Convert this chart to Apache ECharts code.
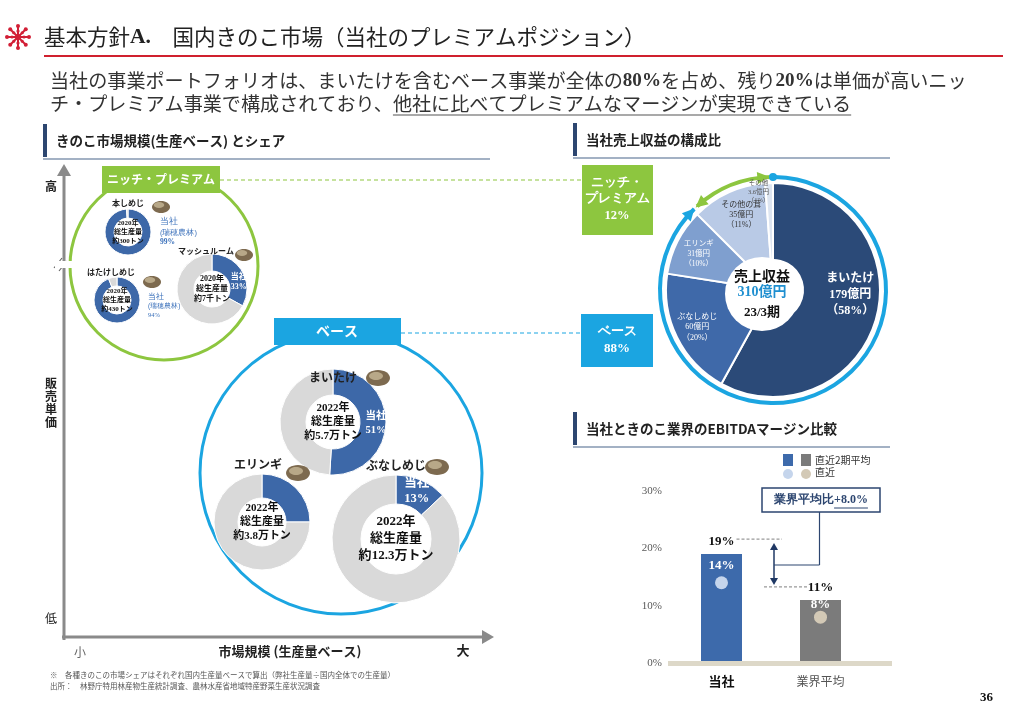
<!DOCTYPE html>
<html>
<head>
<meta charset="utf-8">
<script src="https://cdn.jsdelivr.net/npm/echarts@6.0.0/dist/echarts.min.js"></script>
<style>
html, body { margin: 0; padding: 0; background: #fff; }
#main { width: 1016px; height: 720px; }
</style>
</head>
<body>
<div id="main"></div>
<script>
// きのこ市場シェア（当社 %）
var shareNames = ['本しめじ', 'はたけしめじ', 'マッシュルーム', 'まいたけ', 'エリンギ', 'ぶなしめじ'];
var shareValues = [99, 94, 33, 51, 25, 13];
var shareYears = ['2020年', '2020年', '2020年', '2022年', '2022年', '2022年'];
var shareVolumes = ['約300トン', '約430トン', '約7千トン', '約5.7万トン', '約3.8万トン', '約12.3万トン'];

// 当社売上収益の構成（億円 / %）
var revenueNames = ['まいたけ', 'ぶなしめじ', 'エリンギ', 'その他の茸', 'その他'];
var revenueValues = [179, 60, 31, 35, 3.6];
var revenuePct = [58, 20, 10, 11, 1];
var revenueTotal = '310億円';
var revenuePeriod = '23/3期';
var segmentNames = ['ベース', 'ニッチ・\nプレミアム'];
var segmentShare = [88, 12];

// EBITDAマージン (%)
var marginCats = ['当社', '業界平均'];
var marginAvg2 = [19, 11];
var marginLatest = [14, 8];

var JP = "'Noto Sans CJK JP', sans-serif";
var MIX = "'Liberation Serif', 'Noto Sans CJK JP', serif";
var BLUE = '#3d68a8', GREY = '#d9d9d9', CYAN = '#1ba5e1', GREEN = '#8dc63f', NAVY = '#2d4670';

// 各ドーナツの位置とサイズ
var pieLayout = [
    { c: [128, 232], r: [14, 23], fs: 7, lh: 9, lab: [128, 203], labFs: 8, photo: [161, 207] },
    { c: [117, 300], r: [14, 23], fs: 7, lh: 9, lab: [111, 272], labFs: 8, photo: [152, 282] },
    { c: [212, 289], r: [18, 35], fs: 8, lh: 10, lab: [206, 251], labFs: 8, photo: [244, 255] },
    { c: [333, 422], r: [27, 53], fs: 11, lh: 14, lab: [333, 377], labFs: 12, photo: [378, 378] },
    { c: [262, 522], r: [24, 48], fs: 11, lh: 14, lab: [258, 464], labFs: 12, photo: [298, 473] },
    { c: [396, 539], r: [35, 64], fs: 13, lh: 15, lab: [396, 465], labFs: 12, photo: [437, 467] }
];
var revStyle = [
    { color: '#2b4a78', text: '#fff', fs: 12, r: 84, dx: -4, dy: -16 },
    { color: '#3f69a9', text: '#fff', fs: 8, r: 80, dx: -4, dy: 2 },
    { color: '#7f9fcf', text: '#fff', fs: 7.5, r: 80, dx: -3, dy: 0 },
    { color: '#b9cae6', text: '#333', fs: 8, r: 76, dx: 0, dy: -6 },
    { color: '#dde5f1', text: '#555', fs: 6.5, r: 96, dx: -11, dy: -2 }
];
var revC = [773, 290];
var revHole = [762, 294, 37];

var ctx = document.createElement('canvas').getContext('2d');
function textW(s, font) { ctx.font = font; return ctx.measureText(s).width; }

function txt(x, y, text, o) {
    var st = {
        text: text, fill: '#222', fontSize: 12, fontFamily: JP,
        textAlign: 'left', textVerticalAlign: 'middle', align: 'left', verticalAlign: 'middle'
    };
    for (var k in o) st[k] = o[k];
    if (o && o.textAlign) st.align = o.textAlign;
    return { type: 'text', x: x, y: y, z: 100, style: st };
}
function line(x1, y1, x2, y2, color, w, dash) {
    return { type: 'line', z: 50, shape: { x1: x1, y1: y1, x2: x2, y2: y2 },
        style: { stroke: color, lineWidth: w || 1, lineDash: dash || null } };
}
function rect(x, y, w, h, fill, stroke) {
    return { type: 'rect', z: 40, shape: { x: x, y: y, width: w, height: h },
        style: { fill: fill, stroke: stroke || null, lineWidth: stroke ? 1.5 : 0 } };
}
function circle(cx, cy, r, fill, stroke, w, z) {
    return { type: 'circle', z: z == null ? 1 : z, shape: { cx: cx, cy: cy, r: r },
        style: { fill: fill, stroke: stroke || null, lineWidth: w || 0 } };
}
// ドーナツ上の位置（時計回り割合 f, 半径 r）
function polar(c, f, r) {
    var a = (90 - 360 * f) * Math.PI / 180;
    return { x: c[0] + r * Math.cos(a), y: c[1] - r * Math.sin(a), tx: Math.sin(a), ty: Math.cos(a), nx: Math.cos(a), ny: -Math.sin(a) };
}

var g = [];

// タイトル
(function () {
    var c = [18, 37];
    for (var i = 0; i < 8; i++) {
        var a = i * Math.PI / 4;
        var ex = c[0] + 11 * Math.cos(a), ey = c[1] + 11 * Math.sin(a);
        g.push(line(c[0], c[1], ex, ey, '#d21f36', 2));
        g.push(circle(ex, ey, 2, '#d21f36', null, 0, 60));
        g.push(circle(c[0] + 6 * Math.cos(a), c[1] + 6 * Math.sin(a), 1.6, '#d21f36', null, 0, 60));
    }
    g.push(circle(c[0], c[1], 3, '#d21f36', null, 0, 60));
})();
g.push(txt(44, 37, '{a|基本方針}{b|A.}{a|　国内きのこ市場（当社のプレミアムポジション）}', {
    rich: {
        a: { fontSize: 21.5, fontFamily: JP, fill: '#222', color: '#222' },
        b: { fontSize: 21.5, fontFamily: MIX, fontWeight: 'bold', fill: '#222', color: '#222' }
    }
}));
g.push(line(44, 56, 1003, 56, '#d0202e', 2));

// リード文
var BFS = 19.1;
var bodyRich = {
    n: { fontSize: BFS, fontFamily: JP, color: '#333', fill: '#333' },
    b: { fontSize: BFS, fontFamily: MIX, fontWeight: 'bold', color: '#333', fill: '#333' }
};
g.push(txt(50, 81, '{n|当社の事業ポートフォリオは、まいたけを含むベース事業が全体の}{b|80%}{n|を占め、残り}{b|20%}{n|は単価が高いニッ}', { rich: bodyRich }));
var l2a = 'チ・プレミアム事業で構成されており、';
var l2b = '他社に比べてプレミアムなマージンが実現できている';
var f2 = BFS + "px 'Noto Sans CJK JP'";
var w2a = textW(l2a, f2), w2b = textW(l2b, f2);
g.push(txt(50, 104, l2a, { fontSize: BFS, fill: '#333' }));
g.push(txt(50 + w2a, 104, l2b, { fontSize: BFS, fill: '#333' }));
g.push(line(50 + w2a, 115, 50 + w2a + w2b, 115, '#555', 1.2));

// セクション見出し
function header(x, y, x2, label) {
    g.push(rect(x, y, 4, 33, NAVY));
    g.push(txt(x + 13, y + 17, label, { fontSize: 13.5, fontWeight: 'bold', fill: '#222' }));
    g.push(line(x, y + 35, x2, y + 35, '#8497b0', 1.5));
}
header(43, 124, 490, 'きのこ市場規模(生産ベース) とシェア');
header(573, 123, 890, '当社売上収益の構成比');
header(573, 412, 890, '当社ときのこ業界のEBITDAマージン比較');

// 左図の軸
g.push(line(64, 640, 64, 172, '#8a8a8a', 3));
g.push({ type: 'polygon', z: 50, shape: { points: [[57, 176], [71, 176], [64, 164]] }, style: { fill: '#8a8a8a' } });
g.push(line(62, 637, 484, 637, '#8a8a8a', 3));
g.push({ type: 'polygon', z: 50, shape: { points: [[482, 630], [482, 644], [494, 637]] }, style: { fill: '#8a8a8a' } });
g.push({ type: 'rect', z: 55, shape: { x: 55, y: 261, width: 18, height: 7 }, style: { fill: '#fff' } });
g.push(line(54, 268, 62, 258, '#666', 1.2));
g.push(line(59, 271, 67, 261, '#666', 1.2));
g.push(txt(51, 186, '高', { fontSize: 12, textAlign: 'center', fontWeight: 'bold' }));
g.push(txt(51, 403, '販\n売\n単\n価', { fontSize: 12, textAlign: 'center', fontWeight: 'bold', lineHeight: 13 }));
g.push(txt(51, 618, '低', { fontSize: 12, textAlign: 'center' }));
g.push(txt(80, 652, '小', { fontSize: 12, textAlign: 'center', fill: '#666' }));
g.push(txt(290, 651, '市場規模 (生産量ベース)', { fontSize: 13, textAlign: 'center', fontWeight: 'bold' }));
g.push(txt(463, 650, '大', { fontSize: 13, textAlign: 'center', fontWeight: 'bold' }));

// ニッチ・プレミアム / ベース の円
g.push(circle(164, 266, 94, 'rgba(0,0,0,0)', GREEN, 3, 1));
g.push(rect(102, 166, 118, 27, GREEN));
g.push(txt(161, 179, 'ニッチ・プレミアム', { fontSize: 12, fontWeight: 'bold', fill: '#fff', textAlign: 'center' }));
g.push(circle(341, 473, 141, 'rgba(0,0,0,0)', CYAN, 3, 1));
g.push(rect(274, 318, 127, 27, CYAN));
g.push(txt(337, 331, 'ベース', { fontSize: 14, fontWeight: 'bold', fill: '#fff', textAlign: 'center' }));

// 右図への点線
g.push(line(220, 180, 582, 180, GREEN, 1.2, [4, 3]));
g.push(line(401, 333, 581, 333, CYAN, 1.2, [4, 3]));

// ドーナツのラベルと写真代わりの小さな塊
pieLayout.forEach(function (p, i) {
    g.push(txt(p.lab[0], p.lab[1], shareNames[i], { fontSize: p.labFs, fontWeight: 'bold', textAlign: 'center' }));
    var s = i < 3 ? 0.75 : 1;
    g.push({ type: 'ellipse', z: 30, shape: { cx: p.photo[0], cy: p.photo[1], rx: 12 * s, ry: 8 * s }, style: { fill: '#7d6a4f' } });
    g.push({ type: 'ellipse', z: 31, shape: { cx: p.photo[0] - 2, cy: p.photo[1] - 2, rx: 7 * s, ry: 4 * s }, style: { fill: '#b8a888' } });
});
g.push(txt(160, 232, '{a|当社}\n{b|(瑞穂農林)}\n{c|' + shareValues[0] + '%}', {
    rich: {
        a: { fontSize: 9, color: '#3d72bb', fill: '#3d72bb', lineHeight: 11 },
        b: { fontSize: 7.5, color: '#3d72bb', fill: '#3d72bb', lineHeight: 10 },
        c: { fontSize: 7.5, fontFamily: MIX, fontWeight: 'bold', color: '#3d72bb', fill: '#3d72bb', lineHeight: 10 }
    }
}));
g.push(txt(148, 306, '{a|当社}\n{b|(瑞穂農林)}\n{c|' + shareValues[1] + '%}', {
    rich: {
        a: { fontSize: 7.5, color: '#3d72bb', fill: '#3d72bb', lineHeight: 9 },
        b: { fontSize: 6.5, color: '#3d72bb', fill: '#3d72bb', lineHeight: 9 },
        c: { fontSize: 6.5, fontFamily: MIX, color: '#3d72bb', fill: '#3d72bb', lineHeight: 9 }
    }
}));
// マッシュルームの当社ラベル（扇形の中に配置）
(function () {
    var p = pieLayout[2];
    var m = polar(p.c, shareValues[2] * 0.64 / 100, (p.r[0] + p.r[1]) / 2 + 1);
    g.push(txt(m.x, m.y, '当社\n' + shareValues[2] + '%', { fontSize: 8, fontWeight: 'bold', fontFamily: MIX,
        fill: '#fff', textAlign: 'center', lineHeight: 10 }));
})();

// 売上収益ドーナツの中央（穴は少し左下にずれている）
g.push(circle(revHole[0], revHole[1], revHole[2], '#fff', null, 0, 90));
g.push(txt(revHole[0], revC[1] - 14, '売上収益', { fontSize: 14, fontWeight: 'bold', textAlign: 'center', fill: '#111' }));
g.push(txt(revHole[0], revC[1] + 2, revenueTotal, { fontSize: 14, fontWeight: 'bold', fontFamily: MIX, textAlign: 'center', fill: '#1f8fd0' }));
g.push(txt(revHole[0], revC[1] + 23, revenuePeriod, { fontSize: 13, fontWeight: 'bold', fontFamily: MIX, textAlign: 'center', fill: '#111' }));
// 各扇形のラベル（扇形の中央角に配置）
(function () {
    var sum = revenueValues.reduce(function (a, b) { return a + b; }, 0);
    var acc = 0;
    revenueNames.forEach(function (n, i) {
        var s = revStyle[i];
        var f = (acc + revenueValues[i] / 2) / sum;
        acc += revenueValues[i];
        var m = polar(revC, f, s.r);
        g.push(txt(m.x + s.dx, m.y + s.dy, n + '\n' + revenueValues[i] + '億円\n（' + revenuePct[i] + '%）', {
            fontSize: s.fs, fontFamily: MIX, fontWeight: i == 0 ? 'bold' : 'normal',
            fill: s.text, textAlign: 'center', lineHeight: s.fs * 1.3 }));
    });
})();

// ベース / ニッチ ボックス
g.push(rect(582, 165, 71, 70, GREEN));
g.push(txt(617, 200, '{a|' + segmentNames[1] + '}\n{b|' + segmentShare[1] + '%}', {
    textAlign: 'center',
    rich: {
        a: { fontSize: 12.5, fontWeight: 'bold', color: '#fff', fill: '#fff', lineHeight: 16, align: 'center' },
        b: { fontSize: 12.5, fontWeight: 'bold', fontFamily: MIX, color: '#fff', fill: '#fff', lineHeight: 18, align: 'center' }
    }
}));
g.push(rect(581, 314, 72, 53, CYAN));
g.push(txt(617, 340, '{a|' + segmentNames[0] + '}\n{b|' + segmentShare[0] + '%}', {
    textAlign: 'center',
    rich: {
        a: { fontSize: 13, fontWeight: 'bold', color: '#fff', fill: '#fff', lineHeight: 18, align: 'center' },
        b: { fontSize: 13, fontWeight: 'bold', fontFamily: MIX, color: '#fff', fill: '#fff', lineHeight: 18, align: 'center' }
    }
}));

// リング上の矢印（割合から角度を計算）
function arrowHead(f, r, dir, color) {
    var p = polar(revC, f, r);
    var tx = p.tx * dir, ty = p.ty * dir;
    return { type: 'polygon', z: 60, shape: { points: [
        [p.x + tx * 7, p.y + ty * 7],
        [p.x - tx * 5 + p.nx * 6, p.y - ty * 5 + p.ny * 6],
        [p.x - tx * 5 - p.nx * 6, p.y - ty * 5 - p.ny * 6]
    ] }, style: { fill: color } };
}
var baseEnd = segmentShare[0] / 100;
g.push(arrowHead(baseEnd - 0.012, 113, 1, CYAN));
g.push(arrowHead(baseEnd + 0.01, 113, -1, GREEN));
g.push(arrowHead(0.985, 113, 1, GREEN));
var top0 = polar(revC, 0, 113);
g.push(circle(top0.x, top0.y, 4, CYAN, null, 0, 60));

// EBITDA 凡例
g.push(rect(783, 454, 10, 12, '#3d6aab'));
g.push(rect(801, 454, 10, 12, '#7b7b7b'));
g.push(txt(815, 460, '直近2期平均', { fontSize: 10, fill: '#333' }));
g.push(circle(788, 474, 5, '#c5d5ec', null, 0, 60));
g.push(circle(806, 474, 5, '#d3c9b6', null, 0, 60));
g.push(txt(815, 472, '直近', { fontSize: 10, fill: '#333' }));
g.push(rect(668, 661, 224, 5, '#ddd8c8'));

// 注記・ページ番号
g.push(txt(50, 675, '※　各種きのこの市場シェアはそれぞれ国内生産量ベースで算出（弊社生産量÷国内全体での生産量）', { fontSize: 7.5, fill: '#555' }));
g.push(txt(50, 686, '出所：　林野庁特用林産物生産統計調査、農林水産省地域特産野菜生産状況調査', { fontSize: 7.5, fill: '#555' }));
g.push(txt(993, 698, '36', { fontSize: 13, fontWeight: 'bold', fontFamily: MIX, textAlign: 'right', fill: '#111' }));

// シリーズ
var series = [];
pieLayout.forEach(function (p, i) {
    var v = shareValues[i];
    series.push({
        type: 'pie', center: p.c, radius: p.r, startAngle: 90, clockwise: true,
        silent: true, animation: false, z: 5,
        itemStyle: { borderColor: '#fff', borderWidth: 1 },
        labelLine: { show: false },
        data: [
            { value: v, name: '当社', itemStyle: { color: BLUE },
              label: { show: i >= 3, position: 'inside', formatter: '当社\n{c}%', color: i == 4 ? '#dce6f5' : '#fff',
                       fontSize: p.fs - 0.5, fontWeight: 'bold', fontFamily: MIX, lineHeight: p.lh } },
            { value: 100 - v, name: '他社', itemStyle: { color: GREY },
              label: { show: true, position: 'center', formatter: shareYears[i] + '\n総生産量\n' + shareVolumes[i],
                       color: '#111', fontSize: p.fs, fontWeight: 'bold', fontFamily: MIX, lineHeight: i == 5 ? 17 : p.lh } }
        ]
    });
});

series.push({
    type: 'pie', center: revC, radius: [30, 107], startAngle: 90, clockwise: true,
    silent: true, animation: false, z: 5,
    itemStyle: { borderColor: '#fff', borderWidth: 2 },
    label: { show: false }, labelLine: { show: false },
    data: revenueNames.map(function (n, i) {
        return { name: n, value: revenueValues[i], itemStyle: { color: revStyle[i].color } };
    })
});
series.push({
    type: 'pie', center: revC, radius: [111, 115], startAngle: 90, clockwise: true,
    silent: true, animation: false, z: 4, padAngle: 2,
    label: { show: false }, labelLine: { show: false },
    data: [
        { name: segmentNames[0], value: segmentShare[0], itemStyle: { color: CYAN } },
        { name: segmentNames[1], value: segmentShare[1], itemStyle: { color: GREEN } }
    ]
});

series.push({
    type: 'bar', xAxisIndex: 0, yAxisIndex: 0, barWidth: 41, animation: false, z: 2,
    data: marginAvg2.map(function (v, i) { return { value: v, itemStyle: { color: i == 0 ? '#3d6aab' : '#7b7b7b' } }; }),
    label: { show: true, position: 'top', distance: 6, formatter: '{c}%', color: '#111',
             fontSize: 13, fontWeight: 'bold', fontFamily: MIX }
});
series.push({
    type: 'scatter', xAxisIndex: 0, yAxisIndex: 0, symbolSize: 13, animation: false, z: 3,
    data: marginLatest.map(function (v, i) {
        return { value: v, itemStyle: { color: i == 0 ? '#c5d5ec' : '#d3c9b6', opacity: 1 },
                 label: { distance: i == 0 ? 4 : -1 } };
    }),
    label: { show: true, position: 'top', distance: 4, formatter: '{c}%', color: '#fff',
             fontSize: 13, fontWeight: 'bold', fontFamily: MIX }
});

var option = {
    backgroundColor: '#fff',
    animation: false,
    textStyle: { fontFamily: JP },
    grid: { left: 672, top: 491, width: 198, height: 172, containLabel: false, outerBoundsMode: 'none' },
    xAxis: {
        type: 'category', data: marginCats,
        axisLine: { show: false }, axisTick: { show: false },
        axisLabel: {
            margin: 12,
            formatter: function (v, i) { return i == 0 ? '{a|' + v + '}' : '{b|' + v + '}'; },
            rich: {
                a: { fontSize: 13, fontWeight: 'bold', color: '#111' },
                b: { fontSize: 12, color: '#555' }
            }
        }
    },
    yAxis: {
        type: 'value', min: 0, max: 30, interval: 10,
        axisLine: { show: false }, axisTick: { show: false }, splitLine: { show: false },
        axisLabel: { formatter: '{value}%', color: '#595959', fontSize: 11, fontFamily: MIX, margin: 10 }
    },
    graphic: { elements: g },
    series: series
};

var chart = echarts.init(document.getElementById('main'), null, { renderer: 'canvas' });
chart.setOption(option);

// 業界平均比の注記（棒の位置から計算）
var p0 = chart.convertToPixel({ gridIndex: 0 }, [marginCats[0], marginAvg2[0]]);
var p1 = chart.convertToPixel({ gridIndex: 0 }, [marginCats[1], marginAvg2[1]]);
var ax = (p0[0] + p1[0]) / 2 + 3;
var yA = p0[1] - 15, yB = p1[1] - 13;
g.push(line(p0[0] + 15, yA, ax + 8, yA, '#999', 1.2, [3, 2]));
g.push(line(ax - 10, yB, p1[0] - 12, yB, '#999', 1.2, [3, 2]));
g.push(line(ax, yA + 8, ax, yB - 6, '#1f3864', 1.5));
g.push({ type: 'polygon', z: 60, shape: { points: [[ax - 4, yA + 11], [ax + 4, yA + 11], [ax, yA + 4]] }, style: { fill: '#1f3864' } });
g.push({ type: 'polygon', z: 60, shape: { points: [[ax - 4, yB - 9], [ax + 4, yB - 9], [ax, yB - 2]] }, style: { fill: '#1f3864' } });
var midY = (yA + yB) / 2 + 2;
g.push(line(ax, midY, p1[0] - 1, midY, NAVY, 1.2));
g.push(line(p1[0] - 1, midY, p1[0] - 1, 512, NAVY, 1.2));
g.push(rect(762, 488, 118, 24, '#fff', NAVY));
var diff = (marginAvg2[0] - marginAvg2[1]).toFixed(1);
var ra = textW('業界平均比', "bold 12px 'Noto Sans CJK JP'");
var rb = textW('+' + diff + '%', "bold 12px 'Liberation Serif'");
var bx = 821 - (ra + rb) / 2;
g.push(txt(bx, 500, '{a|業界平均比}{b|+' + diff + '%}', {
    rich: {
        a: { fontSize: 12, fontWeight: 'bold', color: NAVY, fill: NAVY },
        b: { fontSize: 12, fontWeight: 'bold', fontFamily: MIX, color: NAVY, fill: NAVY }
    }
}));
g.push(line(bx + ra, 508, bx + ra + rb, 508, NAVY, 1));
chart.setOption({ graphic: { elements: g } });
</script>
</body>
</html>
